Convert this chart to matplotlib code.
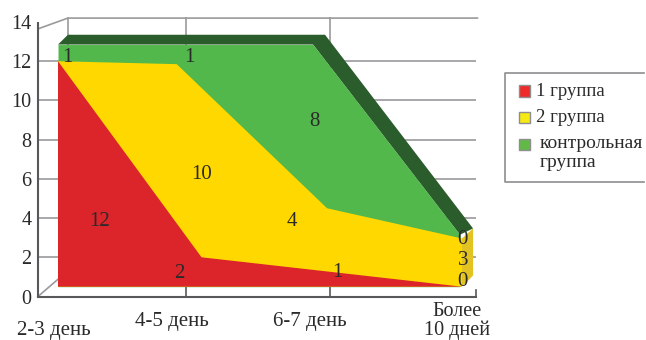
import matplotlib
matplotlib.use("Agg")
import matplotlib.pyplot as plt
from matplotlib.patches import Rectangle, Polygon
from matplotlib.lines import Line2D

plt.rcParams['font.family'] = ['Liberation Serif', 'DejaVu Serif']

# value ticks and categories
y_ticks = [0, 2, 4, 6, 8, 10, 12, 14]
categories = ["2-3 день", "4-5 день", "6-7 день", "Более\n10 дней"]
legend_names = ["1 группа", "2 группа", "контрольная\nгруппа"]

# drawn outlines (x in category units, y in value units)
base_x = [0.137, 2.904]
base_y = [0.5, 0.5]
red_x = [0.137, 1.12, 2.904]
red_y = [12.0, 2.0, 0.5]
yellow_x = [0.137, 0.95, 1.98, 2.904]
yellow_y = [12.0, 11.85, 4.5, 2.96]
green_x = [0.137, 1.884, 2.89]
green_y = [12.85, 12.85, 3.15]
band_x = [0.205, 1.966, 2.98]
band_y = [13.35, 13.35, 3.47]
side_bottom_y = 1.07

# printed value labels
red_labels = [12, 2, 1, 0]
yellow_labels = [10, 4, 3]
green_labels = [1, 1, 8, 0]

RED = "#dc242b"
YEL = "#ffd800"
GRN = "#52b84b"
DARK = "#2a5c2c"
SIDE = "#e3c322"
GRID = "#9a9a9c"
AX = "#58585a"
TXT = "#2a2a2a"

fig = plt.figure(figsize=(6.46, 3.40), dpi=100)
W, H = 646, 340
L, R, B, T = 38, 476, 296.5, 22
ax = fig.add_axes([L / W, 1 - B / H, (R - L) / W, (B - T) / H])
ax.set_xlim(0, 3)
ax.set_ylim(0, 14)
ax.axis("off")

wall_top = 14.2
# back wall: gridlines
for t in y_ticks[1:-1]:
    ax.plot([0, 3], [t, t], color=GRID, lw=1.2, zorder=1, solid_capstyle="butt", clip_on=False)
ax.plot([0, 0.205, 3.01], [13.65, wall_top, wall_top], color=GRID, lw=1.2, zorder=1, clip_on=False)
for xv in (0.205, 1.014, 2.0):
    ax.plot([xv, xv], [wall_top, 10], color=GRID, lw=1.2, zorder=1, clip_on=False)
ax.plot([0, 0.14], [0, 0.9], color=GRID, lw=1.2, zorder=1, clip_on=False)

# floor ticks
for xv, h in ((1.014, 0.55), (2.0, 0.55), (3.0, 0.35)):
    ax.plot([xv, xv], [0, h], color=AX, lw=1.2, zorder=1, clip_on=False)

# dark top band of the block
ax.add_patch(Polygon(
    list(zip(green_x, green_y)) + list(zip(band_x, band_y))[::-1],
    fc=DARK, ec="none", zorder=3, clip_on=False))
# right side face
ax.add_patch(Polygon(
    [(yellow_x[3], yellow_y[3]), (band_x[2], band_y[2]),
     (band_x[2], side_bottom_y), (base_x[1], base_y[1])],
    fc=SIDE, ec="none", zorder=3, clip_on=False))

# front faces
ax.fill_between(green_x, base_y[0], green_y, color=GRN, lw=0, zorder=4, clip_on=False)
ax.fill(yellow_x + [base_x[1], base_x[0]], yellow_y + [base_y[1], base_y[0]], color=YEL, lw=0, zorder=5, clip_on=False)
ax.fill(red_x + [base_x[0]], red_y + [base_y[0]], color=RED, lw=0, zorder=6, clip_on=False)

# axes lines
ax.plot([0, 0], [0, 14], color=AX, lw=1.5, zorder=7, clip_on=False, solid_capstyle="butt")
ax.plot([0, 3], [0, 0], color=AX, lw=1.5, zorder=7, clip_on=False, solid_capstyle="projecting")

# tick labels
for t in y_ticks:
    ax.text(-0.045, t - 0.13, str(t), ha="right", va="center", fontsize=14.5, color=TXT, clip_on=False)
cat_pos = [(0.11, -1.72), (0.918, -1.3), (1.863, -1.3)]
for (xv, yv), c in zip(cat_pos, categories[:3]):
    ax.text(xv, yv, c, ha="center", va="center", fontsize=15, color=TXT, clip_on=False)
ax.text(2.87, -1.25, categories[3], ha="center", va="center", fontsize=14.5, color=TXT,
        linespacing=1.0, clip_on=False)

# printed values on the block
red_pos = [(0.42, 3.85), (0.97, 1.15), (2.05, 1.2), (2.91, 0.75)]
for (xv, yv), s in zip(red_pos, red_labels):
    ax.text(xv, yv, str(s), ha="center", va="center", fontsize=15, color=TXT, zorder=8)
yel_pos = [(1.12, 6.2), (1.74, 3.85), (2.91, 1.85)]
for (xv, yv), s in zip(yel_pos, yellow_labels):
    ax.text(xv, yv, str(s), ha="center", va="center", fontsize=15, color=TXT, zorder=8)
grn_pos = [(0.2, 12.2), (1.04, 12.2), (1.89, 8.9), (2.91, 2.9)]
for (xv, yv), s in zip(grn_pos, green_labels):
    ax.text(xv, yv, str(s), ha="center", va="center", fontsize=15, color=TXT, zorder=8)

# legend frame and entries in pixel coordinates of the figure
tf = fig.transFigure
def px(x, y):
    return (x / W, 1 - y / H)
frame = [(644, 73), (505, 73), (505, 182), (644, 182)]
fig.add_artist(Line2D([px(*p)[0] for p in frame], [px(*p)[1] for p in frame],
                      transform=tf, color="#8e8e90", lw=1.2))
swatch = ["#ee2a2a", "#f5ea16", "#62b946"]
sw_top = [85, 112, 139]
sw_h = [12, 11, 11]
txt_x = [536, 536, 540]
txt_y = [92, 118, 153]
txt_fs = [13.5, 13.5, 14]
for c, s, st, sh, tx, ty, fs in zip(swatch, legend_names, sw_top, sw_h, txt_x, txt_y, txt_fs):
    fig.add_artist(Rectangle(px(519, st + sh), 11 / W, sh / H, transform=tf, fc=c, ec="#8e8e90", lw=1.0))
    fig.text(*px(tx, ty), s, ha="left", va="center", fontsize=fs, color=TXT, linespacing=1.1)

fig.savefig("out.png", dpi=100)
